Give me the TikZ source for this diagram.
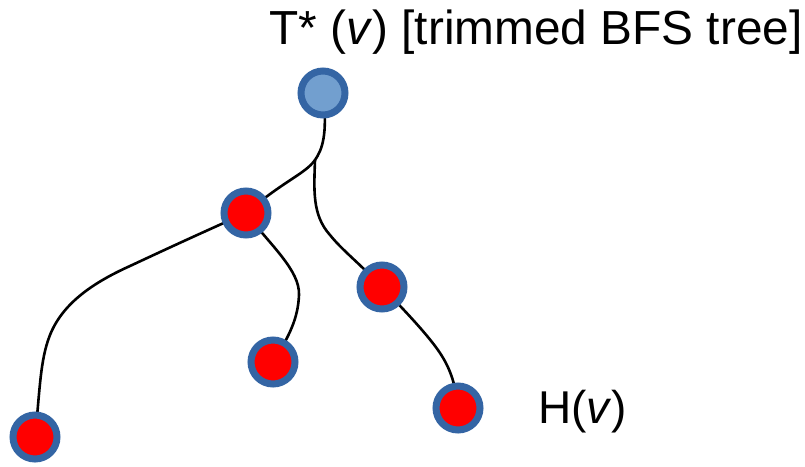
\documentclass[tikz,border=0pt]{standalone}
\usepackage{fontspec}
\setmainfont{Liberation Sans}
\usetikzlibrary{backgrounds}
\definecolor{ringblue}{RGB}{52,101,164}
\definecolor{lightblue}{RGB}{114,159,207}
\definecolor{nodered}{RGB}{255,0,0}
\begin{document}
\begin{tikzpicture}[x=1pt,y=-1pt,
  treenode/.style={circle,draw=ringblue,line width=7pt,fill=nodered,minimum size=44pt,inner sep=0pt},
  rootnode/.style={treenode,fill=lightblue},
  edge/.style={line width=2.6pt,black},
  lbl/.style={inner sep=0pt,anchor=base west}]
\useasboundingbox (0,0) rectangle (805,466);
\node[rootnode] (r) at (323,93) {};
\node[treenode] (a) at (246,213) {};
\node[treenode] (b) at (382,287) {};
\node[treenode] (c) at (273,362) {};
\node[treenode] (d) at (35,437) {};
\node[treenode] (e) at (458,408) {};
\coordinate (j) at (315,160);
\node[lbl,font=\fontsize{47.8}{52}\selectfont] (title) at (269,44) {T* (\textit{v}) [trimmed BFS tree]};
\node[lbl,font=\fontsize{46}{50}\selectfont] (h) at (538,423) {H(\textit{v})};
\begin{scope}[on background layer]
\draw[edge] (r.center) .. controls (328,135) and (322,150) .. (j)
  .. controls (305,174) and (285,180) .. (a.center);
\draw[edge] (j) .. controls (314,190) and (312,215) .. (330,235)
  .. controls (342,250) and (358,262) .. (b.center);
\draw[edge] (a.center) .. controls (190,238) and (160,252) .. (130,266)
  .. controls (90,284) and (62,305) .. (50,335)
  .. controls (40,360) and (40,390) .. (d.center);
\draw[edge] (a.center) .. controls (270,245) and (300,270) .. (299,295)
  .. controls (298,318) and (290,335) .. (c.center);
\draw[edge] (b.center) .. controls (412,318) and (430,338) .. (440,353)
  .. controls (450,368) and (456,385) .. (e.center);
\end{scope}
\end{tikzpicture}
\end{document}
